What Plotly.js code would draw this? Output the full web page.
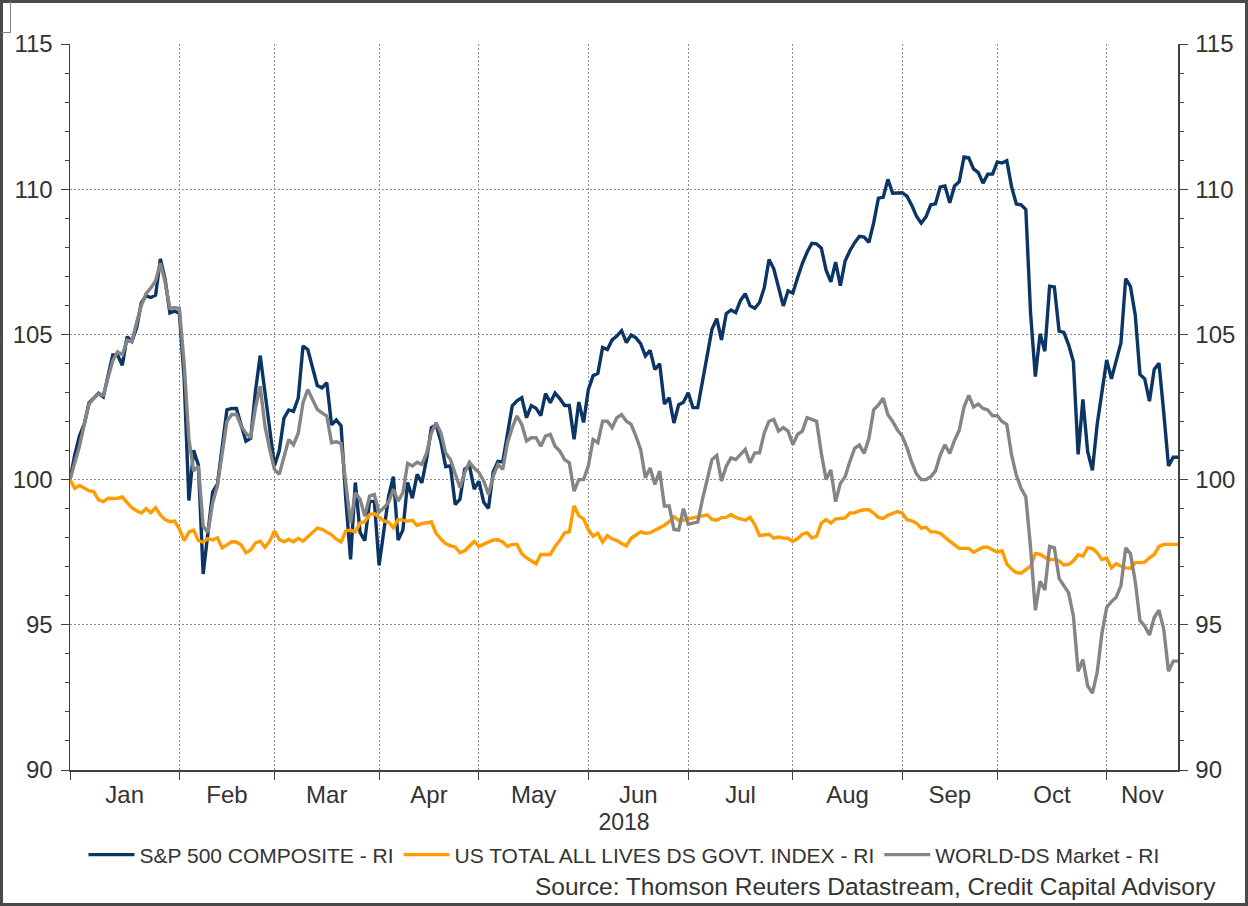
<!DOCTYPE html>
<html>
<head>
<meta charset="utf-8">
<script src="https://cdn.plot.ly/plotly-3.0.1.min.js"></script>
<style>
html,body{margin:0;padding:0;background:#fff;}
#wrap{position:relative;width:1248px;height:906px;overflow:hidden;background:#fff;}
#chart{position:absolute;left:0;top:0;width:1248px;height:906px;}
#frame{position:absolute;left:0;top:0;width:1248px;height:906px;box-sizing:border-box;border:3px solid #4a4a4a;pointer-events:none;}
#tab{position:absolute;left:0;top:0;width:11px;height:33px;box-sizing:border-box;border:1px solid #808080;border-left:3px solid #4a4a4a;border-top:3px solid #4a4a4a;background:#fff;pointer-events:none;}
</style>
</head>
<body>
<div id="wrap"><div id="chart"></div><div id="frame"></div><div id="tab"></div></div>
<script>
// ---- data ----
const START_DATE = '2018-01-01';
const END_DATE = '2018-11-22';
const SERIES_NAMES = ['S&P 500 COMPOSITE - RI', 'US TOTAL ALL LIVES DS GOVT. INDEX - RI', 'WORLD-DS Market - RI'];
const MONTH_LABELS = ['Jan','Feb','Mar','Apr','May','Jun','Jul','Aug','Sep','Oct','Nov'];
const MONTH_STARTS = ['2018-01-01','2018-02-01','2018-03-01','2018-04-02','2018-05-01','2018-06-01','2018-07-02','2018-08-01','2018-09-03','2018-10-01','2018-11-01'];
const Y_TICKS = [90, 95, 100, 105, 110, 115];
const SOURCE_TEXT = 'Source: Thomson Reuters Datastream, Credit Capital Advisory';
const AXIS_TITLE = '2018';

// business-day values, Jan 1 .. Nov 22 2018
const SP500 = [
 100.00,100.85,101.51,101.91,102.64,102.82,102.97,102.85,103.58,104.29,104.29,103.94,104.92,104.76,105.22,106.09,106.33,106.27,106.35,107.60,106.90,105.74,105.80,
 105.73,103.50,99.28,101.01,100.50,96.75,98.20,99.57,99.84,101.18,102.40,102.45,102.45,101.87,101.32,101.42,103.05,104.27,102.95,101.82,
 100.48,100.99,102.12,102.40,102.35,102.81,104.60,104.48,103.82,103.24,103.16,103.34,101.89,102.05,101.86,99.32,97.25,99.90,98.18,97.90,99.25,99.25,
 97.05,98.28,99.42,100.10,97.92,98.26,99.90,99.36,100.18,99.89,100.72,101.79,101.88,101.30,100.45,100.47,99.14,99.32,100.36,100.47,99.67,
 99.94,99.22,99.01,100.27,100.63,100.61,101.58,102.54,102.71,102.82,102.13,102.55,102.46,102.20,102.96,102.65,102.98,102.79,102.55,102.55,101.39,102.67,101.97,
 103.10,103.58,103.66,104.55,104.48,104.81,104.94,105.13,104.72,104.98,104.88,104.68,104.26,104.45,103.79,103.99,102.60,102.82,101.95,102.58,102.66,
 102.99,102.48,102.48,103.38,104.24,105.18,105.54,104.81,105.71,105.84,105.75,106.17,106.40,105.99,105.90,106.10,106.61,107.58,107.26,106.57,105.98,106.50,
 106.42,106.95,107.44,107.83,108.14,108.12,107.97,107.21,106.81,107.49,106.68,107.53,107.88,108.16,108.38,108.35,108.17,108.84,109.69,109.72,110.34,109.86,109.88,
 109.88,109.76,109.45,109.07,108.83,109.05,109.46,109.50,110.08,110.11,109.53,110.11,110.26,111.11,111.08,110.70,110.57,110.21,110.52,110.52,
 110.94,110.90,110.98,110.09,109.49,109.46,109.30,105.72,103.55,105.02,104.42,106.66,106.63,105.11,105.07,104.64,104.07,100.87,102.76,100.97,100.32,101.90,103.02,
 104.12,103.47,104.06,104.71,106.92,106.65,105.68,103.62,103.47,102.70,103.79,104.01,102.31,100.47,100.77,100.77
];
const US_GOVT = [
 100.00,99.70,99.80,99.72,99.62,99.58,99.30,99.24,99.36,99.35,99.36,99.40,99.20,99.03,98.93,98.85,99.00,98.86,99.03,98.78,98.62,98.55,98.57,
 98.30,97.90,98.19,98.26,97.90,97.85,97.97,97.92,98.00,97.65,97.74,97.86,97.85,97.75,97.48,97.58,97.82,97.88,97.67,97.88,
 98.23,97.94,97.86,97.94,97.86,97.98,97.88,98.04,98.17,98.33,98.29,98.20,98.10,97.95,97.85,98.23,98.26,98.20,98.51,98.55,98.80,98.83,
 98.69,98.58,98.54,98.34,98.63,98.60,98.57,98.60,98.42,98.49,98.52,98.54,98.15,97.95,97.80,97.72,97.68,97.48,97.55,97.70,97.87,
 97.70,97.77,97.87,97.92,97.93,97.85,97.70,97.77,97.77,97.45,97.30,97.20,97.10,97.42,97.42,97.42,97.70,97.90,98.17,98.20,99.10,98.75,98.65,
 98.28,98.05,98.15,97.85,98.07,97.96,97.90,97.80,97.72,97.98,98.10,98.20,98.15,98.17,98.26,98.34,98.43,98.55,98.72,98.60,98.60,
 98.65,98.69,98.70,98.75,98.79,98.63,98.60,98.69,98.70,98.80,98.70,98.65,98.60,98.70,98.45,98.07,98.10,98.12,97.98,98.02,97.99,97.98,
 97.87,97.97,98.12,98.17,97.99,98.05,98.50,98.62,98.50,98.65,98.66,98.68,98.85,98.86,98.92,98.96,98.96,98.85,98.70,98.66,98.77,98.84,98.90,
 98.85,98.62,98.58,98.50,98.33,98.36,98.20,98.20,98.15,98.00,97.88,97.75,97.63,97.63,97.63,97.50,97.58,97.67,97.67,97.58,
 97.50,97.55,97.10,96.92,96.80,96.78,96.90,97.02,97.45,97.43,97.32,97.25,97.25,97.20,97.06,97.08,97.20,97.41,97.36,97.65,97.63,97.48,97.25,
 97.30,96.96,97.10,97.02,96.96,96.95,97.14,97.14,97.16,97.31,97.42,97.70,97.77,97.77,97.77,97.77
];
const WORLD = [
 100.00,100.60,101.15,101.90,102.60,102.80,102.95,102.90,103.50,104.10,104.40,104.30,104.80,104.75,105.40,106.00,106.40,106.60,106.85,107.45,106.80,105.90,105.92,
 105.90,104.00,101.40,100.30,100.46,98.40,98.17,99.20,99.78,100.90,102.00,102.24,102.24,101.84,101.60,101.44,102.47,103.22,101.84,101.04,
 100.35,100.18,100.80,101.38,101.20,101.60,102.65,103.10,102.76,102.42,102.30,102.19,101.27,101.30,101.25,99.78,98.50,99.55,99.32,98.74,99.43,99.49,
 98.88,99.03,99.22,99.66,99.26,99.55,100.56,100.47,100.60,100.52,100.92,101.61,101.96,101.60,100.92,100.69,100.20,99.72,100.24,100.60,100.40,
 100.24,99.95,99.49,100.12,100.52,100.35,101.27,101.79,102.19,101.90,101.33,101.44,101.44,101.15,101.50,101.56,101.15,100.98,100.69,100.58,99.60,100.00,100.00,
 100.47,101.38,101.27,102.01,102.01,101.79,102.13,102.24,102.01,101.90,101.50,101.04,100.06,100.40,99.83,100.29,99.09,99.09,98.28,98.26,99.00,
 98.46,98.50,98.54,99.32,100.00,100.69,100.83,99.95,100.46,100.75,100.69,100.87,101.04,100.58,100.92,100.92,101.61,102.01,102.07,101.67,101.79,101.67,
 101.21,101.56,101.67,102.13,102.07,102.01,100.90,100.00,100.33,99.24,99.87,100.10,100.62,101.08,101.19,100.90,101.42,102.40,102.57,102.80,102.23,102.00,101.71,
 101.50,101.10,100.60,100.20,100.00,100.00,100.10,100.30,100.85,101.20,100.90,101.35,101.70,102.50,102.90,102.50,102.60,102.45,102.40,102.20,
 102.20,102.00,101.90,100.85,100.15,99.70,99.40,97.65,95.50,96.50,96.20,97.70,97.65,96.60,96.35,96.10,95.30,93.40,93.80,92.90,92.65,93.35,94.70,
 95.60,95.80,95.95,96.35,97.65,97.45,96.50,95.15,94.95,94.65,95.25,95.50,94.85,93.40,93.75,93.75
];

// weekday dates (Datastream daily series, weekends excluded)
function weekdayDates(start, end) {
  const out = [];
  const d = new Date(start + 'T00:00:00Z');
  const e = new Date(end + 'T00:00:00Z');
  while (d <= e) {
    const wd = d.getUTCDay();
    if (wd !== 0 && wd !== 6) out.push(d.toISOString().slice(0, 10));
    d.setUTCDate(d.getUTCDate() + 1);
  }
  return out;
}
const DATES = weekdayDates(START_DATE, END_DATE);

// month label positions: midway (in trading days) between month boundaries
function labelPositions() {
  const idx = MONTH_STARTS.map(s => DATES.indexOf(s));
  idx.push(DATES.length - 1);
  const pos = [];
  for (let k = 0; k < MONTH_STARTS.length; k++) {
    const mid = (idx[k] + idx[k + 1]) / 2;
    const lo = Math.floor(mid);
    let d = DATES[lo];
    if (mid > lo) d = d + ' 12:00';
    pos.push(d);
  }
  return pos;
}
const LABEL_POS = labelPositions();

const FONT = 'Liberation Sans, Arial, Helvetica, sans-serif';
const COLORS = ['#0b3565', '#ff9c00', '#858585'];
const SERIES = [SP500, US_GOVT, WORLD];
const Y_AXIS_OF = ['y', 'y', 'y2'];

const traces = SERIES.map((vals, k) => ({
  type: 'scatter', mode: 'lines', x: DATES, y: vals, name: SERIES_NAMES[k],
  xaxis: 'x', yaxis: Y_AXIS_OF[k],
  line: {color: COLORS[k], width: 3.4}, hoverinfo: 'skip'
}));

const gridColor = '#8f8f8f';
const axisColor = '#404040';
const tickFont = {family: FONT, size: 24, color: '#333'};

const yCommon = {
  range: [90, 115], autorange: false, tickmode: 'array', tickvals: Y_TICKS, ticktext: Y_TICKS.map(String),
  ticks: 'outside', ticklen: 8, tickwidth: 1, tickcolor: axisColor,
  showline: true, linecolor: axisColor, linewidth: 1.5, zeroline: false,
  tickfont: tickFont, ticklabelstandoff: 3, fixedrange: true,
  minor: {dtick: 1, ticks: 'outside', ticklen: 4, tickwidth: 1, tickcolor: axisColor, showgrid: false}
};

const layout = {
  width: 1248, height: 906,
  paper_bgcolor: '#fff', plot_bgcolor: '#fff',
  font: {family: FONT, color: '#333'},
  margin: {l: 70, r: 70, t: 44, b: 136, autoexpand: false},
  showlegend: true,
  xaxis: {
    type: 'date', range: [START_DATE, END_DATE], autorange: false,
    rangebreaks: [{bounds: ['sat', 'mon']}],
    tickmode: 'array', tickvals: LABEL_POS, ticktext: MONTH_LABELS,
    ticks: '', showgrid: false, zeroline: false,
    showline: true, linecolor: axisColor, linewidth: 1.5,
    tickfont: tickFont, ticklabelstandoff: 3, fixedrange: true,
    minor: {tickmode: 'array', tickvals: MONTH_STARTS, ticks: 'outside', ticklen: 8, tickwidth: 1,
            tickcolor: axisColor, showgrid: true, gridcolor: gridColor, griddash: '2px,2px', gridwidth: 1},
    title: {text: AXIS_TITLE, font: {family: FONT, size: 23, color: '#333'}, standoff: 6}
  },
  yaxis: Object.assign({}, yCommon, {side: 'left', showgrid: true, gridcolor: gridColor, griddash: '2px,2px', gridwidth: 1}),
  yaxis2: Object.assign({}, yCommon, {overlaying: 'y', side: 'right', anchor: 'x', showgrid: false}),
  legend: {
    orientation: 'h', x: 0.5, xanchor: 'center', y: -0.117, yanchor: 'middle',
    font: {family: FONT, size: 21, color: '#333'}, bgcolor: 'rgba(0,0,0,0)',
    itemwidth: 46, traceorder: 'normal'
  },
  annotations: [{
    text: SOURCE_TEXT, xref: 'paper', yref: 'paper', x: 1.0361, y: -0.1598,
    xanchor: 'right', yanchor: 'middle', showarrow: false,
    font: {family: FONT, size: 24.5, color: '#333'}
  }]
};

Plotly.newPlot('chart', traces, layout, {displayModeBar: false, staticPlot: true});
</script>
</body>
</html>
